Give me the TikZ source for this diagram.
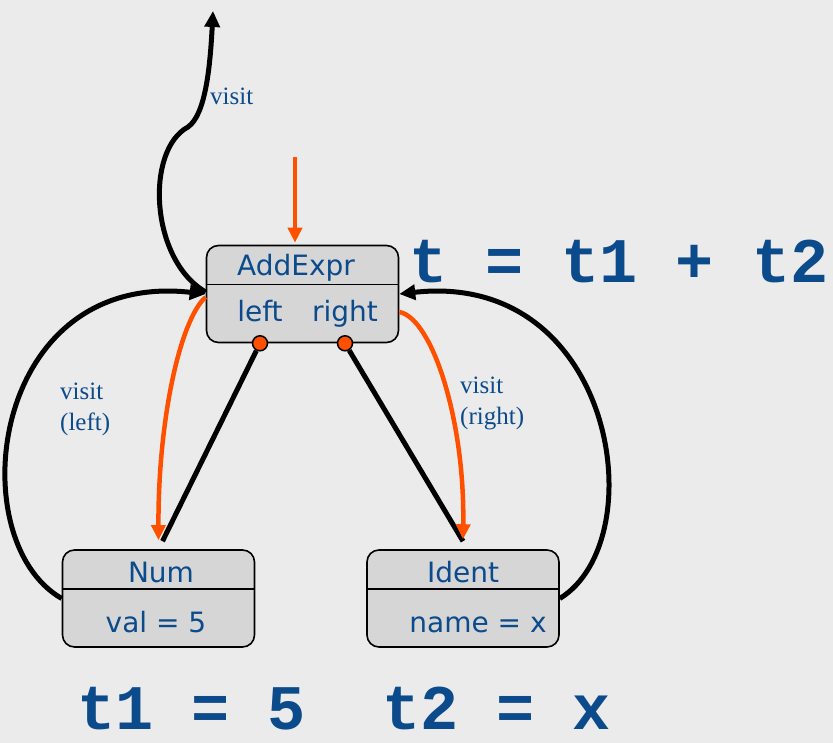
\documentclass[tikz,border=0pt]{standalone}
\usepackage{fontspec}
\usepackage{tikz}
\usepackage{xcolor}
\usetikzlibrary{arrows.meta, positioning, calc}
\newfontfamily\boxfont{DejaVu Sans}
\newfontfamily\labelfont{Liberation Serif}
\newfontfamily\codefont{Liberation Mono}
\definecolor{darktext}{HTML}{0B4A8B}
\definecolor{accentorange}{HTML}{FF5000}
\definecolor{boxfill}{HTML}{D6D6D6}
\definecolor{backfill}{HTML}{EBEBEB}

\begin{document}
\begin{tikzpicture}[x=1pt, y=-1pt,
    box/.style={draw=black, line width=1.6pt, fill=boxfill, rounded corners=12pt, minimum width=192pt, minimum height=97pt},
    boxtext/.style={text=darktext, font=\boxfont\fontsize{28}{30}\selectfont, inner sep=0pt, anchor=base},
    lbl/.style={text=darktext, font=\labelfont\fontsize{25}{31}\selectfont, align=left, inner sep=0pt, anchor=north west},
    code/.style={text=darktext, font=\codefont\bfseries\fontsize{63.5}{70}\selectfont, inner sep=0pt, anchor=base west},
    arr/.style={-{Triangle[length=16pt,width=15pt]}, line width=5pt, black},
    oarr/.style={-{Triangle[length=15pt,width=14pt]}, line width=4.5pt, accentorange},
    port/.style={circle, draw=black, line width=1.5pt, fill=accentorange, minimum size=15pt, inner sep=0pt}
]
    \fill[backfill] (0,0) rectangle (833,743);
    \useasboundingbox (0,0) rectangle (833,743);

    % boxes
    \node[box] (add) at (302.5,294) {};
    \node[box] (num) at (158.5,598.5) {};
    \node[box] (ident) at (463,598.5) {};
    \foreach \b in {add, num, ident}
        \draw[line width=1.6pt] ([yshift=-40pt]\b.north west) -- ([yshift=-40pt]\b.north east);

    \node[boxtext] (addtitle) at (296,276) {AddExpr};
    \node[boxtext] (fleft) at (260,322) {left};
    \node[boxtext] (fright) at (345,322) {right};
    \node[boxtext] (numtitle) at (161,582) {Num};
    \node[boxtext] (numval) at (156,632) {val = 5};
    \node[boxtext] (idtitle) at (463,582) {Ident};
    \node[boxtext] (idval) at (478,632) {name = x};

    \node[port] (pleft) at (fleft |- add.south) {};
    \node[port] (pright) at (fright |- add.south) {};

    % equations
    \node[code] (eqadd) at (409,283) {t = t1 + t2};
    \node[code] (eqleaf) at (77,729) {t1 = 5\ \ t2 = x};

    % labels
    \node[lbl] (lblup) at (210,88) {visit};
    \node[lbl] (lblleft) at (60,383) {visit\\(left)};
    \node[lbl] (lblright) at (460,377) {visit\\(right)};

    % connectors
    \coordinate (top) at (213,11);
    \coordinate (kink) at (188,127);
    \coordinate (instart) at (295,157);
    \draw[oarr] (instart) -- ([yshift=2pt]add.north -| instart);
    \draw[line width=5pt] (pleft) -- ([xshift=4pt,yshift=8pt]num.north);
    \draw[line width=5pt] (pright) -- ([yshift=8pt]ident.north);
    \draw[oarr] ([yshift=-3pt]add.west) .. controls (180,320) and (158,420) .. ([yshift=9pt]num.north);
    \draw[oarr] ([yshift=-18pt]add.east) .. controls (432,318) and (465,420) .. ([yshift=10pt]ident.north);
    \draw[arr] ([yshift=2pt]add.west) .. controls (150,260) and (145,150) .. (kink) .. controls (205,115) and (210,70) .. (top);
    \draw[arr] (num.west) .. controls (-40,540) and (-10,270) .. (add.west);
    \draw[arr] (ident.east) .. controls (655,540) and (615,270) .. (add.east);
\end{tikzpicture}
\end{document}
